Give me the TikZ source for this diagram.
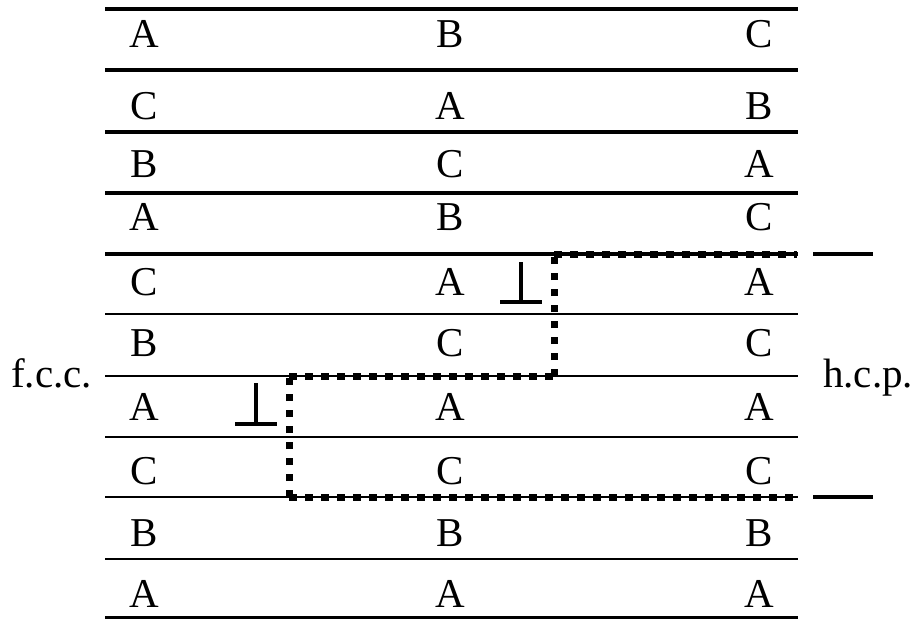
\documentclass[tikz,border=0pt]{standalone}
\usepackage{fontspec}
\setmainfont{Liberation Serif}
\begin{document}
\begin{tikzpicture}[x=1pt,y=-1pt,
  layer/.style={line width=3.2pt},
  thinlayer/.style={line width=2.8pt},
  fault/.style={line width=7pt,dash pattern=on 7.5pt off 8.5pt},
  disl/.style={line width=4.5pt},
  stem/.style={line width=3.6pt},
  lbl/.style={inner sep=0pt,anchor=base,font=\fontsize{41}{48}\selectfont},
  side/.style={inner sep=0pt,anchor=base west,font=\fontsize{41}{48}\selectfont}]
\useasboundingbox (0,0) rectangle (917,619);
% layer lines
\foreach \y in {9,70,132,193,254} \draw[layer] (105,\y) -- (798,\y);
\foreach \y in {314,376,437,497,559,617.5} \draw[thinlayer] (105,\y) -- (798,\y);
% letters
\foreach \a/\b/\c/\y [count=\i] in {A/B/C/47, C/A/B/119, B/C/A/177, A/B/C/230, C/A/A/295, B/C/C/356, A/A/A/420, C/C/C/484, B/B/B/546, A/A/A/607}{
  \node[lbl] (l\i) at (144,\y) {\a};
  \node[lbl] (m\i) at (450,\y) {\b};
  \node[lbl] (r\i) at (759,\y) {\c};
}
% side labels
\node[side] (fcc) at (11,387) {f.c.c.};
\node[side] (hcp) at (823,387) {h.c.p.};
% stacking fault path
\draw[fault] (289,497) -- (797,497);
\draw[fault] (289,497) -- (289,376);
\draw[fault] (289,376) -- (554,376);
\draw[fault] (554,376) -- (554,254);
\draw[fault] (554,254) -- (797,254);
% short marks at right
\draw[layer] (813,254) -- (873,254);
\draw[layer] (813,497) -- (873,497);
% dislocation symbols
\draw[disl] (500,302) -- (542,302);
\draw[stem] (521,302) -- (521,262);
\draw[disl] (235,424) -- (277,424);
\draw[stem] (256,424) -- (256,383);
\end{tikzpicture}
\end{document}
